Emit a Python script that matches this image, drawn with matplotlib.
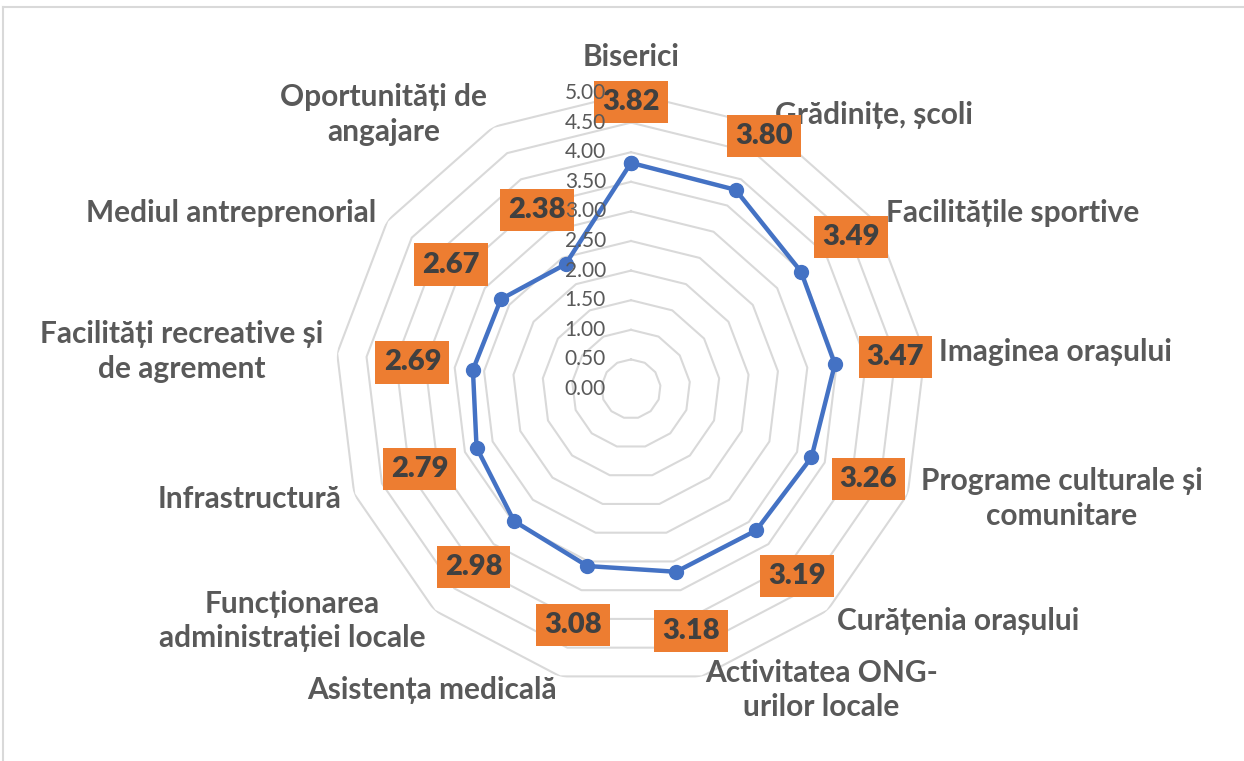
import numpy as np
import matplotlib
matplotlib.use("Agg")
import matplotlib.pyplot as plt
from matplotlib.lines import Line2D

categories = [
    "Biserici",
    "Grădinițe, școli",
    "Facilitățile sportive",
    "Imaginea orașului",
    "Programe culturale și\ncomunitare",
    "Curățenia orașului",
    "Activitatea ONG-\nurilor locale",
    "Asistența medicală",
    "Funcționarea\nadministrației locale",
    "Infrastructură",
    "Facilități recreative și\nde agrement",
    "Mediul antreprenorial",
    "Oportunități de\nangajare",
]
scores = [3.82, 3.80, 3.49, 3.47, 3.26, 3.19, 3.18, 3.08, 2.98, 2.79, 2.69, 2.67, 2.38]
levels = [0.0, 0.5, 1.0, 1.5, 2.0, 2.5, 3.0, 3.5, 4.0, 4.5, 5.0]

blue = "#4472C4"
orange = "#ED7D31"
grid_col = "#D9D9D9"
text_col = "#595959"

W, H = 1244, 761
fig = plt.figure(figsize=(W / 100, H / 100), dpi=100)
fig.patch.set_facecolor("white")

# chart-area border (top and left edges visible)
fig.add_artist(Line2D([3 / W, 3 / W], [0, 1 - 7 / H], color=grid_col, lw=1.5))
fig.add_artist(Line2D([3 / W, 1], [1 - 7 / H, 1 - 7 / H], color=grid_col, lw=1.5))

cx, cy, R = 631, 389, 296
ax = fig.add_axes([(cx - R) / W, (H - cy - R) / H, 2 * R / W, 2 * R / H], projection="polar")
ax.set_theta_offset(np.pi / 2)
ax.set_theta_direction(-1)
ax.set_ylim(0, 5)
ax.grid(False)
ax.set_xticks([])
ax.set_yticks([])
ax.spines["polar"].set_visible(False)
ax.patch.set_alpha(0)

n = len(categories)
theta = np.arange(n) * 2 * np.pi / n
theta_c = np.append(theta, theta[0])

# polygon gridlines
for lv in levels[1:]:
    ax.plot(theta_c, [lv] * (n + 1), color=grid_col, lw=1.5, zorder=1)

# series
vals = np.append(scores, scores[0])
ax.plot(theta_c, vals, color=blue, lw=3.2, marker="o", markersize=10, zorder=3)

# data labels
for t, v in zip(theta, scores):
    ax.text(t, v + 1.03, f"{v:.2f}", ha="center", va="center", fontsize=21,
            fontfamily="Lato", fontweight="heavy", color="#404040", zorder=4,
            bbox=dict(boxstyle="square,pad=0.28", fc=orange, ec="none"))

# radial tick labels
for lv in levels:
    ax.annotate(f"{lv:.2f}", xy=(0, lv), xytext=(-25, 0), textcoords="offset pixels",
                ha="right", va="center", fontsize=15, fontfamily="Lato",
                color=text_col, zorder=5, annotation_clip=False)

# category labels
for t, lab in zip(theta, categories):
    s, c = np.sin(t), np.cos(t)
    if abs(s) < 0.1:
        ha, va, off = "center", "bottom", 22
    else:
        ha = "left" if s > 0 else "right"
        va, off = "center", 14
    ax.annotate(lab, xy=(t, 5.0), xytext=(off * s, off * c), textcoords="offset pixels",
                ha=ha, va=va, multialignment="center", fontsize=21.5,
                fontfamily="Lato", fontweight="bold", color=text_col,
                annotation_clip=False, linespacing=1.3)

fig.savefig("out.png", dpi=100)
